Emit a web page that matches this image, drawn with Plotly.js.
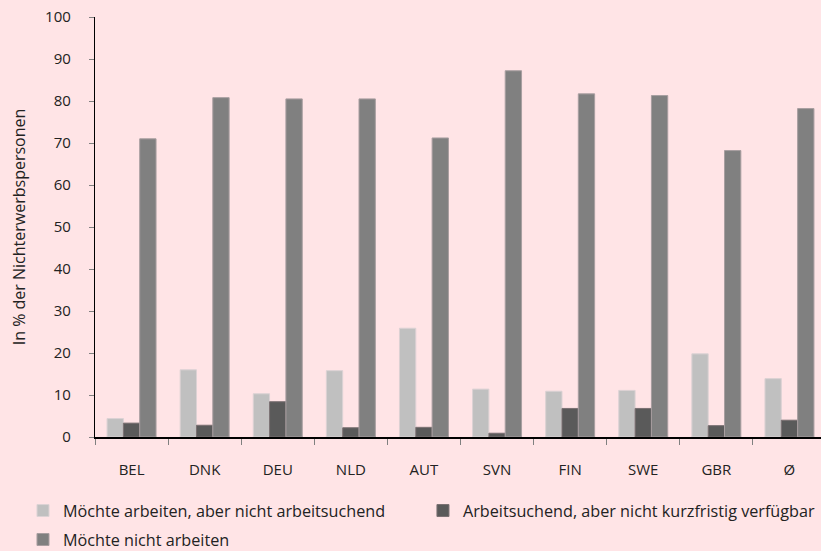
<!DOCTYPE html>
<html><head><meta charset="utf-8">
<script src="https://cdn.plot.ly/plotly-3.0.1.min.js"></script>
<style>html,body{margin:0;padding:0;overflow:hidden;background:#ffe4e6;}</style>
</head><body><div id="chart"></div>
<script>
const categories = ["BEL","DNK","DEU","NLD","AUT","SVN","FIN","SWE","GBR","Ø"];
const moechteArbeiten = [4.4,16.0,10.3,15.8,25.9,11.4,10.9,11.1,19.8,13.9];
const arbeitsuchend = [3.3,2.8,8.4,2.2,2.3,0.9,6.8,6.8,2.7,4.0];
const moechteNicht = [71.0,80.8,80.5,80.5,71.2,87.2,81.7,81.3,68.2,78.2];
const seriesNames = ["Möchte arbeiten, aber nicht arbeitsuchend","Arbeitsuchend, aber nicht kurzfristig verfügbar","Möchte nicht arbeiten"];
const yTicks = [0,10,20,30,40,50,60,70,80,90,100];

const font = "'Open Sans', sans-serif";
const bg = "#ffe4e6";
function mk(vals, name, color, edge, leg){
  return {type:"bar", x:categories, y:vals, name:name, legend:leg,
    marker:{color:color, line:{color:edge, width:1}}, hoverinfo:"skip"};
}
const data = [
  mk(moechteArbeiten, seriesNames[0], "#c0c0c0", "#dcd2d4", "legend"),
  mk(arbeitsuchend, seriesNames[1], "#5a5a5a", "#7a7072", "legend2"),
  mk(moechteNicht, seriesNames[2], "#808080", "#a89ea0", "legend3")
];
function leg(x, y){
  return {orientation:"h", xref:"container", yref:"container", x:x, y:y,
    xanchor:"left", yanchor:"middle", font:{size:16.2, family:font, color:"#222"},
    bgcolor:"rgba(0,0,0,0)", itemclick:false};
}
const layout = {
  width:830, height:551,
  margin:{l:95, r:4, t:17, b:114},
  paper_bgcolor:bg, plot_bgcolor:bg,
  font:{family:font, size:15, color:"#000"},
  barmode:"group", bargap:0.33, bargroupgap:0,
  showlegend:true,
  xaxis:{type:"category", showline:true, linecolor:"#000", linewidth:1.5,
    ticks:"outside", tickson:"boundaries", ticklen:6, tickcolor:"#808080",
    ticklabelstandoff:18, tickfont:{size:15, family:font, color:"#222"}, showgrid:false, zeroline:false},
  yaxis:{range:[0,100], tickvals:yTicks, showline:true, linecolor:"#000", linewidth:1.2,
    ticks:"outside", ticklen:5, tickcolor:"#808080", showgrid:false, zeroline:false,
    ticklabelstandoff:15, tickfont:{size:15, family:font, color:"#222"},
    title:{text:"In % der Nichterwerbspersonen", font:{size:16, family:font, color:"#222"}, standoff:15}},
  legend:leg(0.0277, 0.0726),
  legend2:leg(0.5096, 0.0726),
  legend3:leg(0.0277, 0.0200)
};
Plotly.newPlot("chart", data, layout, {displayModeBar:false, staticPlot:true});
</script></body></html>
